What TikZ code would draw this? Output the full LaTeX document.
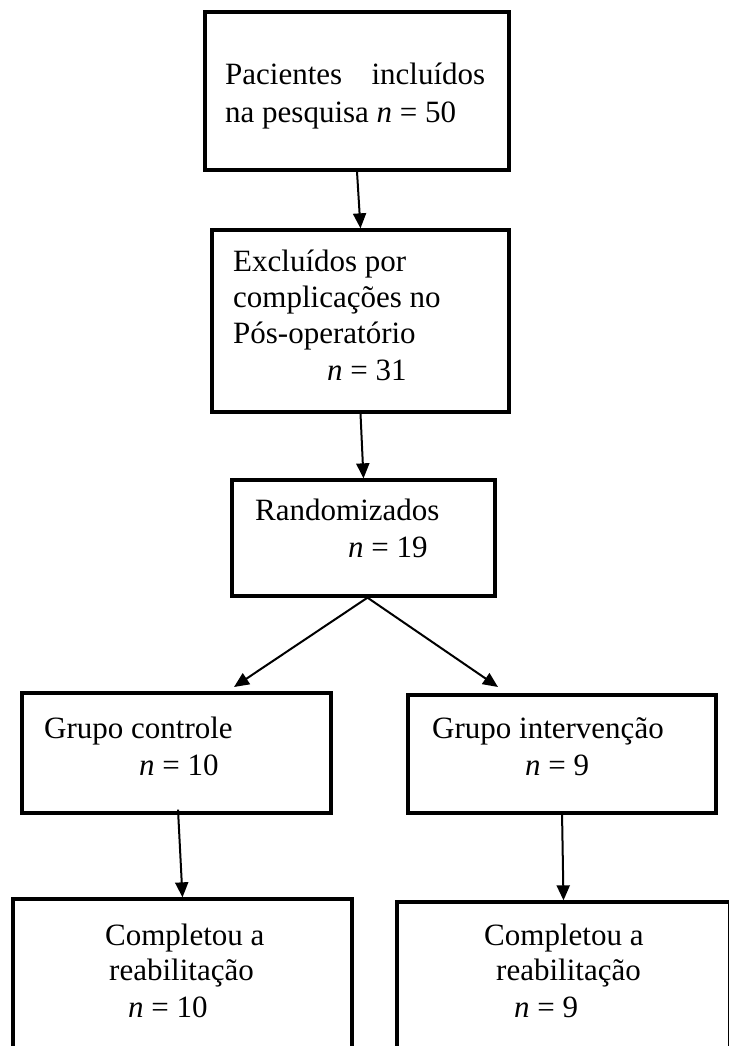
\documentclass[tikz,border=0pt]{standalone}
\usepackage{fontspec}
\setmainfont{Liberation Serif}
\usetikzlibrary{arrows.meta}
\begin{document}
\begin{tikzpicture}[x=1pt,y=-1pt,
  box/.style={draw=black,line width=3.3pt,rectangle,inner sep=0pt},
  txt/.style={anchor=base west,inner sep=0pt,font=\fontsize{31}{37}\selectfont},
  arr/.style={line width=2pt,-{Triangle[length=15pt,width=13pt]}}]
\useasboundingbox (0,0) rectangle (728,1046);
% boxes
\node[box,minimum width=304pt,minimum height=158pt] (b1) at (357,91) {};
\node[box,minimum width=297pt,minimum height=182pt] (b2) at (360.5,321) {};
\node[box,minimum width=263pt,minimum height=116pt] (b3) at (363.5,538) {};
\node[box,minimum width=309pt,minimum height=120pt] (b4) at (176.5,753) {};
\node[box,minimum width=308pt,minimum height=118pt] (b5) at (562,754) {};
\node[box,minimum width=339pt,minimum height=161pt] (b6) at (182.5,979.5) {};
\node[box,minimum width=333pt,minimum height=158pt] (b7) at (563.5,981) {};
% texts
\node[txt] (t1a) at (225,85) {\makebox[260pt][s]{Pacientes incluídos}};
\node[txt] (t1b) at (225,123) {na pesquisa \textit{n} = 50};
\node[txt] (t2a) at (233,271) {Excluídos por};
\node[txt] (t2b) at (233,307) {complicações no};
\node[txt] (t2c) at (233,343) {Pós-operatório};
\node[txt] (t2d) at (327,380) {\textit{n} = 31};
\node[txt] (t3a) at (255,520) {Randomizados};
\node[txt] (t3b) at (348,557) {\textit{n} = 19};
\node[txt] (t4a) at (44,738) {Grupo controle};
\node[txt] (t4b) at (139,775) {\textit{n} = 10};
\node[txt] (t5a) at (432,738) {Grupo intervenção};
\node[txt] (t5b) at (525,775) {\textit{n} = 9};
\node[txt] (t6a) at (105,945) {Completou a};
\node[txt] (t6b) at (109,980) {reabilitação};
\node[txt] (t6c) at (128,1017) {\textit{n} = 10};
\node[txt] (t7a) at (484,945) {Completou a};
\node[txt] (t7b) at (496,980) {reabilitação};
\node[txt] (t7c) at (514,1017) {\textit{n} = 9};
% connectors
\coordinate (e4) at (234,687);
\coordinate (e5) at (498,687);
\draw[arr] (b1.south) -- (b2.north);
\draw[arr] (b2.south) -- (b3.north);
\draw[arr] ([xshift=4pt]b3.south) -- (e4);
\draw[arr] ([xshift=4pt]b3.south) -- (e5);
\draw[arr] ([xshift=1.5pt,yshift=5pt]b4.south) -- (b6.north);
\draw[arr] ([yshift=3pt]b5.south) -- (b7.north);
\end{tikzpicture}
\end{document}
